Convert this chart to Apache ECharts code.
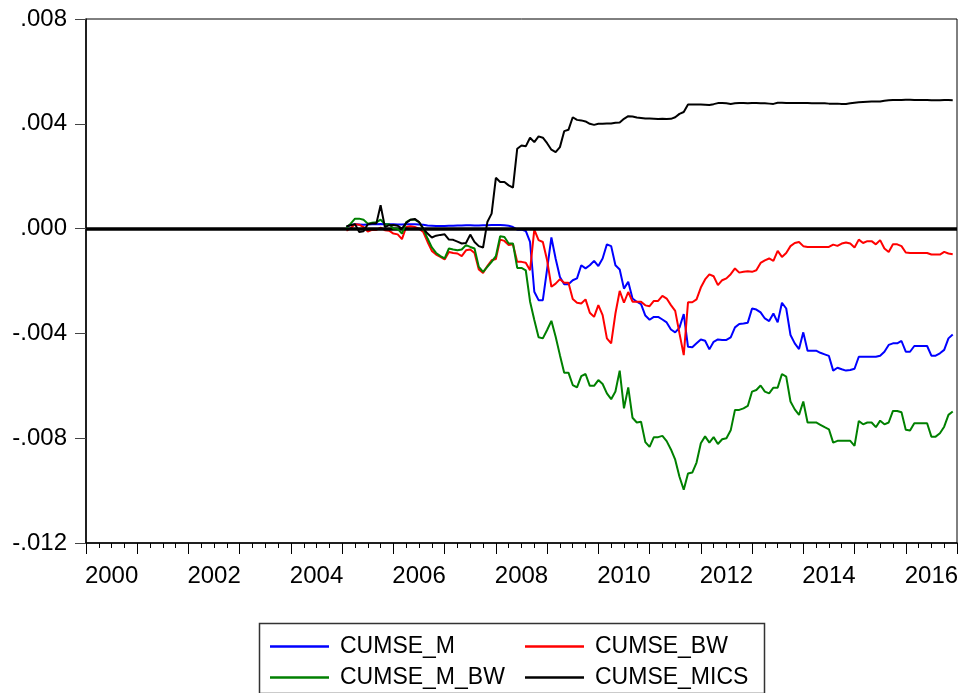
<!DOCTYPE html>
<html>
<head>
<meta charset="utf-8">
<title>CUMSE</title>
<script src="https://cdn.jsdelivr.net/npm/echarts@6/dist/echarts.min.js"></script>
<style>
  html, body { margin: 0; padding: 0; background: #fff; }
  #chart { width: 965px; height: 693px; }
</style>
</head>
<body>
<div id="chart"></div>
<script>
// Monthly observations, 2005M02 .. 2016M12, values in units of 1e-3
const firstYear = 2005;
const firstMonth = 2;
const valueScale = 0.001;

const cumseM = [
  0.06, 0.14, 0.17, 0.16, 0.15, 0.16, 0.17, 0.17, 0.18, 0.17, 0.17,
  0.17, 0.16, 0.16, 0.17, 0.17, 0.17, 0.16, 0.15, 0.12, 0.11, 0.10, 0.10,
  0.10, 0.11, 0.11, 0.12, 0.12, 0.13, 0.13, 0.12, 0.12, 0.13, 0.13, 0.14,
  0.14, 0.14, 0.13, 0.11, 0.06, -0.04, -0.04, -0.09, -0.51, -2.41, -2.73, -2.73,
  -1.55, -0.34, -1.15, -1.85, -2.12, -2.12, -1.97, -1.90, -1.40, -1.52, -1.40, -1.23,
  -1.43, -1.14, -0.60, -0.67, -1.40, -1.56, -2.29, -2.03, -2.67, -2.79, -2.88, -3.32,
  -3.48, -3.37, -3.37, -3.47, -3.58, -3.85, -3.96, -3.78, -3.26, -4.51, -4.53, -4.38,
  -4.23, -4.28, -4.61, -4.32, -4.23, -4.25, -4.25, -4.15, -3.77, -3.64, -3.62, -3.59,
  -3.05, -3.09, -3.20, -3.43, -3.53, -3.24, -3.58, -2.83, -3.05, -4.06, -4.38, -4.60,
  -3.96, -4.66, -4.66, -4.66, -4.74, -4.80, -4.86, -5.42, -5.31, -5.37, -5.42, -5.40,
  -5.35, -4.89, -4.89, -4.89, -4.89, -4.89, -4.85, -4.70, -4.44, -4.38, -4.38, -4.29,
  -4.70, -4.70, -4.48, -4.48, -4.48, -4.48, -4.85, -4.85, -4.76, -4.63, -4.19, -4.04
];

const cumseBW = [
  -0.08, 0.01, 0.17, 0.15, 0.06, -0.11, -0.05, -0.05, 0.04, -0.06, -0.08,
  -0.19, -0.22, -0.40, 0.06, 0.09, 0.06, 0.00, -0.13, -0.51, -0.85, -0.99, -1.08,
  -1.18, -0.89, -0.93, -0.95, -1.05, -0.83, -0.80, -0.93, -1.56, -1.69, -1.43, -1.21,
  -1.16, -0.42, -0.47, -0.63, -0.60, -1.27, -1.27, -1.30, -1.59, -0.04, -0.44, -0.51,
  -1.21, -2.22, -2.10, -1.93, -2.07, -2.07, -2.69, -2.83, -2.86, -2.70, -3.21, -3.37,
  -2.92, -3.30, -4.19, -4.38, -3.24, -2.38, -2.83, -2.42, -2.79, -2.79, -2.79, -2.93,
  -2.96, -2.76, -2.76, -2.57, -2.67, -2.92, -3.14, -4.00, -4.83, -2.81, -2.81, -2.70,
  -2.25, -1.94, -1.75, -1.82, -2.16, -1.97, -1.90, -1.74, -1.52, -1.68, -1.65, -1.63,
  -1.65, -1.59, -1.31, -1.21, -1.14, -1.23, -0.85, -1.08, -0.93, -0.67, -0.55, -0.51,
  -0.67, -0.70, -0.70, -0.70, -0.70, -0.70, -0.70, -0.61, -0.66, -0.57, -0.53, -0.57,
  -0.72, -0.42, -0.55, -0.48, -0.48, -0.60, -0.44, -0.76, -0.89, -0.60, -0.60, -0.67,
  -0.91, -0.93, -0.93, -0.93, -0.93, -0.93, -0.99, -0.99, -0.99, -0.89, -0.95, -0.98
];

const cumseMBW = [
  0.04, 0.19, 0.38, 0.38, 0.34, 0.19, 0.22, 0.24, 0.34, 0.17, 0.17,
  0.00, -0.01, -0.19, 0.25, 0.34, 0.34, 0.25, 0.00, -0.38, -0.72, -0.93, -1.05,
  -1.14, -0.76, -0.80, -0.83, -0.80, -0.63, -0.70, -0.76, -1.46, -1.65, -1.46, -1.27,
  -1.05, -0.29, -0.32, -0.57, -0.57, -1.50, -1.50, -1.59, -2.78, -3.49, -4.15, -4.19,
  -3.87, -3.52, -4.13, -4.83, -5.50, -5.50, -5.97, -6.06, -5.63, -5.55, -6.00, -6.00,
  -5.78, -5.93, -6.29, -6.51, -6.22, -5.42, -6.86, -6.06, -7.22, -7.40, -7.37, -8.15,
  -8.33, -7.96, -7.96, -7.91, -8.11, -8.43, -8.82, -9.47, -9.97, -9.35, -9.31, -8.93,
  -8.19, -7.93, -8.17, -7.96, -8.22, -8.04, -8.00, -7.70, -6.92, -6.92, -6.86, -6.77,
  -6.22, -6.16, -5.99, -6.22, -6.29, -6.07, -6.07, -5.55, -5.65, -6.60, -6.90, -7.11,
  -6.60, -7.40, -7.40, -7.40, -7.49, -7.58, -7.66, -8.17, -8.10, -8.10, -8.10, -8.10,
  -8.29, -7.34, -7.47, -7.40, -7.40, -7.58, -7.33, -7.47, -7.40, -6.96, -6.96, -7.01,
  -7.68, -7.71, -7.43, -7.43, -7.43, -7.43, -7.94, -7.94, -7.81, -7.56, -7.11, -6.98
];

const cumseMICS = [
  0.09, 0.13, 0.17, -0.13, -0.10, 0.17, 0.19, 0.19, 0.89, 0.06, 0.13,
  0.14, 0.11, 0.00, 0.22, 0.34, 0.37, 0.25, 0.00, -0.19, -0.34, -0.27, -0.24,
  -0.22, -0.42, -0.43, -0.50, -0.57, -0.55, -0.23, -0.51, -0.67, -0.72, 0.25, 0.57,
  1.94, 1.78, 1.78, 1.65, 1.56, 3.05, 3.17, 3.14, 3.47, 3.30, 3.52, 3.47,
  3.26, 3.01, 2.92, 3.11, 3.72, 3.77, 4.25, 4.15, 4.13, 4.09, 4.00, 3.96,
  4.00, 4.00, 4.01, 4.01, 4.04, 4.05, 4.19, 4.29, 4.28, 4.24, 4.22, 4.20,
  4.20, 4.19, 4.18, 4.19, 4.18, 4.19, 4.25, 4.38, 4.45, 4.74, 4.74, 4.74,
  4.74, 4.73, 4.72, 4.75, 4.79, 4.79, 4.78, 4.76, 4.78, 4.79, 4.79, 4.78,
  4.79, 4.79, 4.78, 4.78, 4.77, 4.76, 4.80, 4.80, 4.79, 4.79, 4.79, 4.79,
  4.79, 4.79, 4.78, 4.78, 4.78, 4.78, 4.77, 4.77, 4.77, 4.76, 4.76, 4.78,
  4.80, 4.82, 4.83, 4.84, 4.85, 4.85, 4.85, 4.88, 4.90, 4.91, 4.91, 4.91,
  4.92, 4.92, 4.91, 4.91, 4.91, 4.91, 4.90, 4.90, 4.90, 4.91, 4.91, 4.90
];

// Axis labels
const yearLabels = [2000, 2002, 2004, 2006, 2008, 2010, 2012, 2014, 2016];
const yTickLabels = ['-.012', '-.008', '-.004', '.000', '.004', '.008'];

const seriesNames = ['CUMSE_M', 'CUMSE_BW', 'CUMSE_M_BW', 'CUMSE_MICS'];
const seriesColors = ['#0000FF', '#FF0000', '#008000', '#000000'];
const seriesValues = [cumseM, cumseBW, cumseMBW, cumseMICS];

// decimal-year position of each monthly observation
function obsTime(k) {
  const m = firstMonth - 1 + k;
  return firstYear + m / 12;
}

const FONT = '"Liberation Sans", Arial, Helvetica, sans-serif';

const series = seriesValues.map((vals, s) => {
  const item = {
    name: seriesNames[s],
    type: 'line',
    xAxisIndex: 0,
    yAxisIndex: 0,
    symbol: 'none',
    showSymbol: false,
    animation: false,
    color: seriesColors[s],
    lineStyle: { width: 2, color: seriesColors[s] },
    data: vals.map((v, k) => [obsTime(k), v * valueScale]),
    z: 3 + s
  };
  if (s === 0) {
    item.markLine = {
      silent: true,
      symbol: ['none', 'none'],
      label: { show: false },
      lineStyle: { color: '#000', width: 3.5, type: 'solid' },
      data: [{ yAxis: 0 }],
      animation: false
    };
  }
  return item;
});

const chart = echarts.init(document.getElementById('chart'), null, { renderer: 'canvas' });

const legendText = { fontSize: 23, color: '#000', fontFamily: FONT, lineHeight: 25, padding: [0, 0, 0, 6] };

chart.setOption({
  animation: false,
  backgroundColor: '#ffffff',
  textStyle: { fontFamily: FONT },
  grid: {
    left: 86, top: 19, width: 871, height: 524,
    show: true, borderColor: '#000', borderWidth: 1, backgroundColor: 'transparent'
  },
  xAxis: [
    {
      type: 'value', position: 'bottom', min: 2000, max: 2017, interval: 1,
      axisLine: { show: true, onZero: false, lineStyle: { color: '#000', width: 1.5 } },
      axisTick: { show: true, length: 11, inside: false, lineStyle: { color: '#000', width: 1 } },
      minorTick: { show: true, splitNumber: 4, length: 5, lineStyle: { color: '#000', width: 1 } },
      axisLabel: { show: false },
      splitLine: { show: false },
      minorSplitLine: { show: false }
    },
    {
      // year captions sit in the middle of each year span
      type: 'value', position: 'bottom', min: 1999.5, max: 2016.5,
      axisLine: { show: false, onZero: false },
      axisTick: { show: false },
      splitLine: { show: false },
      axisLabel: {
        show: true, customValues: yearLabels, fontSize: 24, color: '#000',
        fontFamily: FONT, margin: 21, formatter: v => String(Math.round(v))
      }
    }
  ],
  yAxis: {
    type: 'value', min: -0.012, max: 0.008, interval: 0.004,
    axisLine: { show: true, onZero: false, lineStyle: { color: '#000', width: 1.5 } },
    axisTick: { show: true, length: 11, inside: false, lineStyle: { color: '#444', width: 1 } },
    splitLine: { show: false },
    axisLabel: {
      fontSize: 24, color: '#000', fontFamily: FONT, margin: 19,
      formatter: (v, i) => yTickLabels[i]
    }
  },
  legend: [
    {
      data: ['CUMSE_M', 'CUMSE_M_BW'],
      orient: 'vertical', left: 270, top: 634, height: 200, itemGap: 6,
      icon: 'rect', itemWidth: 59, itemHeight: 2.5,
      selectedMode: false, padding: 0,
      textStyle: legendText
    },
    {
      data: ['CUMSE_BW', 'CUMSE_MICS'],
      orient: 'vertical', left: 525, top: 634, height: 200, itemGap: 6,
      icon: 'rect', itemWidth: 59, itemHeight: 2.5,
      selectedMode: false, padding: 0,
      textStyle: legendText
    }
  ],
  graphic: [
    {
      type: 'rect', left: 257, top: 621, silent: true,
      shape: { width: 505, height: 70 },
      style: { fill: 'none', stroke: '#333', lineWidth: 1.5 }
    }
  ],
  series: series
});
</script>
</body>
</html>
